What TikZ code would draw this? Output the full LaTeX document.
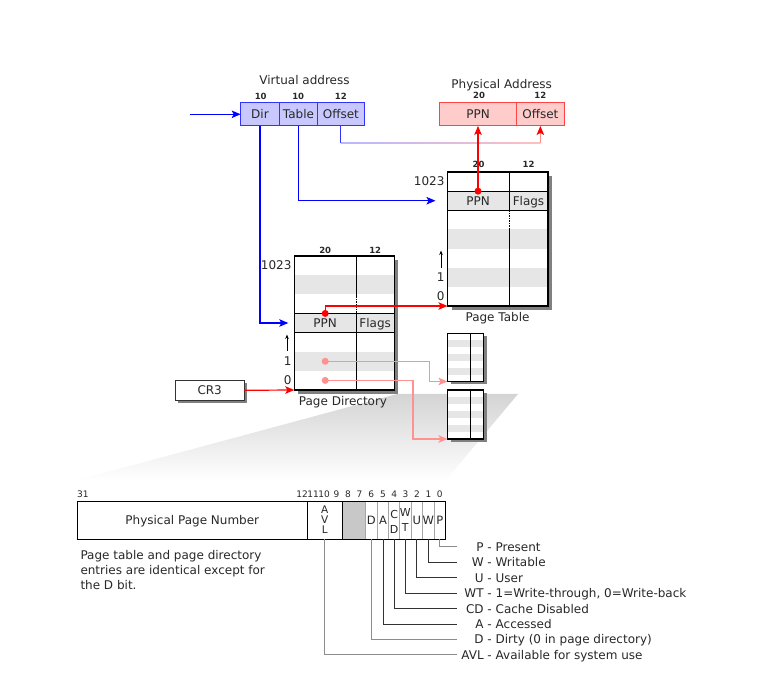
\documentclass[tikz,border=0pt]{standalone}
\usepackage{fontspec}
\setmainfont{DejaVu Sans}
\usetikzlibrary{arrows.meta,shadows}

\definecolor{vafill}{RGB}{200,200,255}
\definecolor{vaedge}{RGB}{51,51,255}
\definecolor{pafill}{RGB}{255,204,204}
\definecolor{paedge}{RGB}{255,68,68}
\definecolor{band}{RGB}{230,230,230}
\definecolor{shadowgray}{RGB}{128,128,128}
\definecolor{ink}{RGB}{40,40,40}
\definecolor{lblue}{RGB}{0,0,255}
\definecolor{lred}{RGB}{255,0,0}
\definecolor{lpink}{RGB}{255,145,145}
\definecolor{bitgray}{RGB}{200,200,200}

\begin{document}
\begin{tikzpicture}[x=1pt,y=-1pt,
  every node/.style={inner sep=0pt, outer sep=0pt, text=ink},
  txt/.style={font=\fontsize{12}{14}\selectfont, text height=8.75pt, text depth=0pt},
  num/.style={font=\fontsize{9}{10}\selectfont, text height=6.5pt, text depth=0pt},
  headnum/.style={font=\fontsize{8.5}{10}\selectfont\bfseries, text height=6.2pt, text depth=0pt},
  letter/.style={font=\fontsize{11}{12}\selectfont, text height=8pt, text depth=0pt},
  vabox/.style={txt, draw=vaedge, fill=vafill, line width=1pt, minimum height=23.3pt},
  pabox/.style={txt, draw=paedge, fill=pafill, line width=1pt, minimum height=23.3pt},
  tableframe/.style={fill=white, minimum height=134pt,
    drop shadow={shadow xshift=4pt, shadow yshift=-4pt, fill=shadowgray, opacity=1}},
  minitable/.style={fill=white, minimum width=36pt,
    drop shadow={shadow xshift=3pt, shadow yshift=-3pt, fill=shadowgray, opacity=1}},
  tablerow/.style={minimum height=19.143pt},
  bitcell/.style={minimum height=37.6pt, font=\fontsize{11.5}{13}\selectfont, text height=8.4pt, text depth=0pt},
  frame/.style={line width=1.2pt, draw=black},
  divider/.style={line width=1pt, draw=black},
  thindiv/.style={line width=0.9pt, draw=black!35},
  tipshape/.style={-{Stealth[length=9pt,width=7.5pt,inset=2pt]}},
  bluelink/.style={tipshape, line width=1.2pt, draw=lblue},
  redlink/.style={tipshape, line width=1.2pt, draw=lred},
  pinklink/.style={tipshape, line width=1.2pt, draw=lpink},
  uparrow/.style={-{Stealth[length=4.5pt,width=3.5pt]}, line width=0.9pt, draw=black},
  dot/.style={circle, minimum size=7pt},
  lead/.style={line width=1pt, draw=black!80},
  leadgray/.style={line width=1pt, draw=black!45},
]

% canvas
\fill[white] (0,0) rectangle (772,700);
\useasboundingbox (0,0) rectangle (772,700);

% projection of one entry onto the bit layout
\shade[top color=black!17, bottom color=white] (397,394) -- (518,394) -- (446,480) -- (78,480) -- cycle;

% ---------------- virtual address ----------------
\node[txt] (va-title) at (304.5,80) {Virtual address};
\node[headnum] (va-n1) at (260.7,96) {10};
\node[headnum] (va-n2) at (298.2,96) {10};
\node[headnum] (va-n3) at (340.8,96) {12};
\node[vabox, minimum width=38.6pt] (va-dir) at (260,114.3) {Dir};
\node[vabox, minimum width=38.4pt] (va-tab) at (298.5,114.3) {Table};
\node[vabox, minimum width=46.3pt] (va-off) at (340.85,114.3) {Offset};

% ---------------- physical address ----------------
\node[txt] (pa-title) at (501.7,83.8) {Physical Address};
\node[headnum] (pa-n1) at (479,95.5) {20};
\node[headnum] (pa-n2) at (540.3,95.5) {12};
\node[pabox, minimum width=77.4pt] (pa-ppn) at (478,114.3) {PPN};
\node[pabox, minimum width=47.3pt] (pa-off) at (540.35,114.3) {Offset};

% ---------------- page table ----------------
\node[tableframe, minimum width=100.5pt] (pt) at (497.75,239) {};
\foreach \k/\fc in {0/white,1/band,2/white,3/band,4/white,5/band,6/white}
  \node[tablerow, minimum width=100.5pt, fill=\fc] (pt-r\k) at (497.75,{181.571+19.143*\k}) {};
\draw[frame] (pt.north west) rectangle (pt.south east);
\draw[frame] (pt-r1.north west) -- (pt-r1.north east) (pt-r1.south west) -- (pt-r1.south east);
\draw[divider] (509,172) -- (509,306);
\draw[white, line width=1pt, dash pattern=on 1pt off 1.5pt] (509,212) -- (509,228);
\node[txt] (pt-ppn) at (478,200.7) {PPN};
\node[txt] (pt-flags) at (528.5,200.7) {Flags};
\node[headnum] (pt-h20) at (478.5,164.8) {20};
\node[headnum] (pt-h12) at (528.5,164.8) {12};
\node[txt, anchor=east] (pt-top) at (444.5,181.6) {1023};
\node[txt, anchor=east] (pt-i1) at (444.5,277.3) {1};
\node[txt, anchor=east] (pt-i0) at (444.5,296.4) {0};
\coordinate (pt-up0) at (441,268);
\coordinate (pt-up1) at (441,250.5);
\draw[uparrow] (pt-up0) -- (pt-up1);
\node[txt] (pt-cap) at (497.5,317) {Page Table};

% ---------------- page directory ----------------
\node[tableframe, minimum width=100pt] (pd) at (344.3,323) {};
\foreach \k/\fc in {0/white,1/band,2/white,3/band,4/white,5/band,6/white}
  \node[tablerow, minimum width=100pt, fill=\fc] (pd-r\k) at (344.3,{265.571+19.143*\k}) {};
\draw[frame] (pd.north west) rectangle (pd.south east);
\draw[frame] (pd-r3.north west) -- (pd-r3.north east) (pd-r3.south west) -- (pd-r3.south east);
\draw[divider] (356,256) -- (356,390);
\draw[white, line width=1pt, dash pattern=on 1pt off 1.5pt] (356,298) -- (356,312);
\node[txt] (pd-ppn) at (325.2,323) {PPN};
\node[txt] (pd-flags) at (375.2,323) {Flags};
\node[headnum] (pd-h20) at (325.2,250) {20};
\node[headnum] (pd-h12) at (375.2,250) {12};
\node[txt, anchor=east] (pd-top) at (291.5,265.6) {1023};
\node[txt, anchor=east] (pd-i1) at (291.5,361.3) {1};
\node[txt, anchor=east] (pd-i0) at (291.5,380.4) {0};
\coordinate (pd-up0) at (287,351);
\coordinate (pd-up1) at (287,334.5);
\draw[uparrow] (pd-up0) -- (pd-up1);
\node[txt] (pd-cap) at (343,401.5) {Page Directory};

% ---------------- two further page tables ----------------
\node[minitable, minimum height=48.2pt] (sb1) at (465.5,357.4) {};
\foreach \k/\fc in {0/white,1/band,2/white,3/band,4/white,5/band,6/white}
  \node[minimum width=36pt, minimum height=6.886pt, fill=\fc] (sb1-r\k) at (465.5,{336.743+6.886*\k}) {};
\draw[frame] (sb1.north west) rectangle (sb1.south east);
\draw[divider] (470,333.3) -- (470,381.5);

\node[minitable, minimum height=49pt] (sb2) at (465.5,414.5) {};
\foreach \k/\fc in {0/white,1/band,2/white,3/band,4/white,5/band,6/white}
  \node[minimum width=36pt, minimum height=7pt, fill=\fc] (sb2-r\k) at (465.5,{393.5+7*\k}) {};
\draw[frame] (sb2.north west) rectangle (sb2.south east);
\draw[divider] (470,390) -- (470,439);

% ---------------- CR3 ----------------
\node[txt, draw=black!80, fill=white, line width=1pt, minimum width=69.3pt, minimum height=19.6pt,
  drop shadow={shadow xshift=3pt, shadow yshift=-3pt, fill=shadowgray, opacity=1}] (cr3) at (209.7,390.3) {CR3};

% ---------------- connectors ----------------
\coordinate (va-in) at (190,114.3);
\draw[bluelink] (va-in) -- (va-dir.west);
\draw[bluelink] (va-dir.south) |- ([xshift=-6pt]pd-r3.west);
\draw[bluelink] (va-tab.south) |- ([xshift=-12pt]pt-r1.west);

\path (va-off.south) ++(0,17) coordinate (ob1);
\coordinate (ob2) at (pa-off.south |- ob1);
\draw[line width=1.2pt, draw=vaedge] (va-off.south) -- (ob1);
\shade[left color=blue!28, right color=red!25] ([yshift=0.6pt]ob1) rectangle ([yshift=-0.6pt]ob2);
\draw[line width=1.2pt, draw=red!45, -{Stealth[length=9pt,width=7.5pt,inset=2pt,color=lred]}] (ob2) -- (pa-off.south);

\draw[redlink] (cr3.east) -- (pd.south west);

\node[dot, fill=lred] (pt-dot) at (pt-ppn |- pt-r1.north) {};
\draw[redlink] (pt-dot.center) -- (pa-ppn.south);
\node[dot, fill=lred] (pd-dot) at (pd-ppn |- pd-r3.north) {};
\draw[redlink] (pd-dot.center) |- (pt.south west);

\node[dot, fill=lpink] (pd-d1) at (pd-ppn |- pd-r5) {};
\node[dot, fill=lpink] (pd-d0) at (pd-ppn |- pd-r6) {};
\draw[pinklink] (pd-d1.center) -| ([xshift=-18pt]sb1.south west) -- (sb1.south west);
\draw[pinklink] (pd-d0.center) -| ([xshift=-34.5pt]sb2.south west) -- (sb2.south west);

% ---------------- entry bit layout ----------------
\node[bitcell, minimum width=230pt, font=\fontsize{12}{14}\selectfont, text height=8.75pt] (b-ppn) at (192.3,520.5) {Physical Page Number};
\node[bitcell, minimum width=35pt] (b-avl) at (324.8,520.5) {};
\node[bitcell, minimum width=23pt, fill=bitgray] (b-res) at (353.8,520.5) {};
\node[bitcell, minimum width=12pt] (b-d) at (371.3,520.5) {D};
\node[bitcell, minimum width=11.4pt] (b-a) at (383,520.5) {A};
\node[bitcell, minimum width=11pt] (b-cd) at (394.2,520.5) {};
\node[bitcell, minimum width=11.3pt] (b-wt) at (405.35,520.5) {};
\node[bitcell, minimum width=11.7pt] (b-u) at (416.85,520.5) {U};
\node[bitcell, minimum width=11.3pt] (b-w) at (428.35,520.5) {W};
\node[bitcell, minimum width=11.5pt] (b-p) at (439.75,520.5) {P};

\node[letter, font=\fontsize{10.5}{12}\selectfont, text height=7.6pt] (avl-a) at (324.8,510) {A};
\node[letter, font=\fontsize{10.5}{12}\selectfont, text height=7.6pt] (avl-v) at (324.8,519.8) {V};
\node[letter, font=\fontsize{10.5}{12}\selectfont, text height=7.6pt] (avl-l) at (324.8,529.7) {L};
\node[letter] (cd-c) at (394.2,514.2) {C};
\node[letter] (cd-d) at (394.2,529.5) {D};
\node[letter] (wt-w) at (405.35,512.3) {W};
\node[letter] (wt-t) at (405.35,527.5) {T};

\foreach \bx in {b-res,b-d,b-a,b-cd,b-wt,b-u,b-w}
  \draw[thindiv] (\bx.north east) -- (\bx.south east);
\draw[divider] (b-ppn.north east) -- (b-ppn.south east);
\draw[divider] (b-avl.north east) -- (b-avl.south east);
\draw[frame] (b-ppn.north west) rectangle (b-p.south east);

% bit numbers
\foreach \nm/\xx/\tx in {n31/82.8/31,n12/302/12,n11/313/11,n10/324/10,n9/336.5/9,n8/348/8,n7/359.5/7,
    n6/371.3/6,n5/383/5,n4/394.2/4,n3/405.4/3,n2/416.9/2,n1/428.4/1,n0/439.8/0}
  \node[num] (bit-\nm) at (\xx,494) {\tx};

% flag legend
\foreach \nm/\bt/\yy/\ab/\ds/\st in {
    p/b-p/547/P/Present/leadgray,
    w/b-w/562.4/W/Writable/lead,
    u/b-u/577.9/U/User/lead,
    wt/b-wt/593.3/WT/{1=Write-through, 0=Write-back}/lead,
    cd/b-cd/608.7/CD/Cache Disabled/lead,
    a/b-a/624.1/A/Accessed/lead,
    d/b-d/639.6/D/{Dirty (0 in page directory)}/leadgray,
    avl/b-avl/655/AVL/Available for system use/leadgray}{
  \coordinate (e-\nm) at (456.7,\yy);
  \draw[\st] (\bt.south) |- (e-\nm);
  \node[txt, anchor=west] (leg-\nm) at (487.5,\yy) {\llap{\ab\ }- \ds};
}

% note
\node[txt, anchor=west] (note1) at (80.5,555) {Page table and page directory};
\node[txt, anchor=west] (note2) at (80.5,570.3) {entries are identical except for};
\node[txt, anchor=west] (note3) at (80.5,585.6) {the D bit.};

\end{tikzpicture}
\end{document}
